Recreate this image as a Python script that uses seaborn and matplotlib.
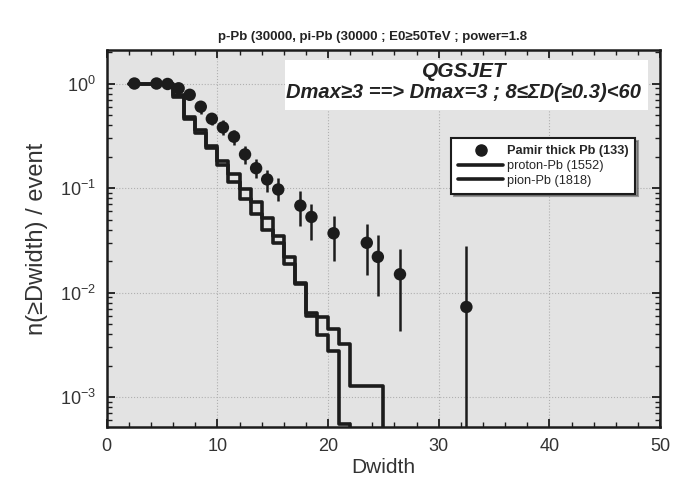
import numpy as np
import pandas as pd
import matplotlib
matplotlib.use('Agg')
import matplotlib.pyplot as plt
import seaborn as sns
from matplotlib.lines import Line2D
from matplotlib.patches import Rectangle
from matplotlib.ticker import MultipleLocator, LogLocator

# Pamir thick Pb experiment: integral distribution n(>=Dwidth)/event
pamir_dwidth = [2.5, 4.5, 5.5, 6.5, 7.5, 8.5, 9.5, 10.5, 11.5, 12.5, 13.5,
                14.5, 15.5, 17.5, 18.5, 20.5, 23.5, 24.5, 26.5, 32.5]
pamir_n = [1.0, 1.0, 0.99, 0.90, 0.78, 0.60, 0.46, 0.38, 0.31, 0.21, 0.155,
           0.121, 0.097, 0.068, 0.053, 0.037, 0.030, 0.022, 0.015, 0.0073]
pamir_lo = [1.0, 1.0, 0.96, 0.84, 0.71, 0.51, 0.40, 0.32, 0.26, 0.17, 0.124,
            0.092, 0.075, 0.043, 0.032, 0.020, 0.0147, 0.0093, 0.0043, 0.0001]
pamir_hi = [1.0, 1.0, 1.0, 0.96, 0.86, 0.67, 0.52, 0.45, 0.36, 0.25, 0.19,
            0.15, 0.125, 0.093, 0.071, 0.054, 0.045, 0.036, 0.026, 0.028]

# QGSJET simulations (step histograms, bin edges and values)
proton_edges = [2, 6, 7, 8, 9, 10, 11, 12, 13, 14, 15, 16, 17, 18, 19, 20, 21, 22, 25]
proton_n = [1.0, 0.78, 0.48, 0.36, 0.25, 0.183, 0.136, 0.099, 0.073, 0.052,
            0.035, 0.022, 0.0123, 0.0064, 0.0058, 0.0045, 0.0032, 0.00129]
pion_edges = [2, 6, 7, 8, 9, 10, 11, 12, 13, 14, 15, 16, 17, 18, 19, 20, 21, 22]
pion_n = [1.0, 0.74, 0.46, 0.34, 0.24, 0.167, 0.115, 0.079, 0.056, 0.040,
          0.030, 0.019, 0.0121, 0.0060, 0.0039, 0.0028, 0.00055]

legend_labels = ['Pamir thick Pb (133)', 'proton-Pb (1552)', 'pion-Pb (1818)']
title = 'p-Pb (30000, pi-Pb (30000 ; E0\u226550TeV ; power=1.8'
note1 = 'QGSJET'
note2 = 'Dmax\u22653 ==> Dmax=3 ; 8\u2264\u03a3D(\u22650.3)<60'

YLIM = (5.2e-4, 2.1)
XLIM = (0, 50)

sns.set_theme(style='ticks')
plt.rcParams['font.family'] = ['Liberation Sans', 'DejaVu Sans']
plt.rcParams['mathtext.fontset'] = 'custom'
plt.rcParams['mathtext.rm'] = 'Liberation Sans'
plt.rcParams['mathtext.it'] = 'Liberation Sans:italic'
narrow = ['Liberation Sans', 'DejaVu Sans']

fig = plt.figure(figsize=(6.84, 4.79), dpi=100)
ax = fig.add_axes([0.156, 0.1086, 0.809, 0.7874])
ax.set_facecolor('#e3e3e3')
ax.set_yscale('log')

# build step curves, dropping below the axis after the last bin
floor = YLIM[0] / 10
rows = []
for name, edges, vals in [('proton', proton_edges, proton_n), ('pion', pion_edges, pion_n)]:
    ys = list(vals) + [floor]
    for i, (x, y) in enumerate(zip(edges, ys)):
        rows.append({'model': name, 'x': x, 'y': y, 'order': i})
steps = pd.DataFrame(rows)
sns.lineplot(data=steps, x='x', y='y', hue='model', palette={'proton': '#1c1c1c', 'pion': '#1c1c1c'},
             drawstyle='steps-post', estimator=None, sort=False, lw=2.6, legend=False, ax=ax, zorder=3)

pamir = pd.DataFrame({'x': pamir_dwidth, 'y': pamir_n, 'lo': pamir_lo, 'hi': pamir_hi})
ax.vlines(pamir['x'], pamir['lo'], pamir['hi'], color='#1c1c1c', lw=1.8, zorder=4)
sns.scatterplot(data=pamir, x='x', y='y', s=80, color='#1c1c1c', edgecolor='none', ax=ax, zorder=5)

ax.set_xlim(*XLIM)
ax.set_ylim(*YLIM)
ax.xaxis.set_major_locator(MultipleLocator(10))
ax.xaxis.set_minor_locator(MultipleLocator(2))
ax.yaxis.set_major_locator(LogLocator(base=10))
ax.yaxis.set_minor_locator(LogLocator(base=10, subs=np.arange(2, 10)))
ax.grid(True, which='major', color='#b0b0b0', ls=':', lw=0.8)
ax.tick_params(which='both', direction='in', top=True, right=True, colors='#1c1c1c', labelsize=13)
ax.tick_params(which='major', length=6, width=1.3, pad=8)
ax.tick_params(which='minor', length=3.5, width=1.0)
for s in ax.spines.values():
    s.set_linewidth(1.8)
    s.set_color('#1c1c1c')
for lab in ax.get_xticklabels() + ax.get_yticklabels():
    lab.set_color('#333333')

ax.set_xlabel('Dwidth', fontsize=15, color='#333333', labelpad=2)
ax.set_ylabel('n(\u2265Dwidth) / event', fontsize=17, color='#333333', labelpad=8)

# white annotation box with model/cut description
ax.add_patch(Rectangle((0.322, 0.841), 0.656, 0.132, transform=ax.transAxes,
                       facecolor='white', edgecolor='none', zorder=2))
ax.text(0.647, 0.942, note1, transform=ax.transAxes, ha='center', va='center',
        fontsize=15, fontweight='bold', style='italic', family=narrow, color='#222222', zorder=6)
ax.text(0.645, 0.886, note2, transform=ax.transAxes, ha='center', va='center',
        fontsize=14.5, fontweight='bold', style='italic', family=narrow, color='#222222', zorder=6)

handles = [Line2D([], [], marker='o', ls='none', color='#1c1c1c', ms=8),
           Line2D([], [], color='#1c1c1c', lw=2.6),
           Line2D([], [], color='#1c1c1c', lw=2.6)]
leg = ax.legend(handles, legend_labels, loc='upper left', bbox_to_anchor=(0.611, 0.782),
                frameon=True, fancybox=False, shadow=True, framealpha=1, edgecolor='#1c1c1c',
                handlelength=3.5, handletextpad=0.3, borderpad=0.55, labelspacing=0.2,
                prop={'family': narrow, 'size': 9.2})
leg.get_frame().set_linewidth(1.5)
leg.set_zorder(7)
leg.get_texts()[0].set_fontweight('bold')

fig.text(372 / 684, 0.922, title, ha='center', va='center', fontsize=9.5,
         fontweight='bold', family=narrow, color='#222222')

fig.savefig('out.png', dpi=100, facecolor='white')
